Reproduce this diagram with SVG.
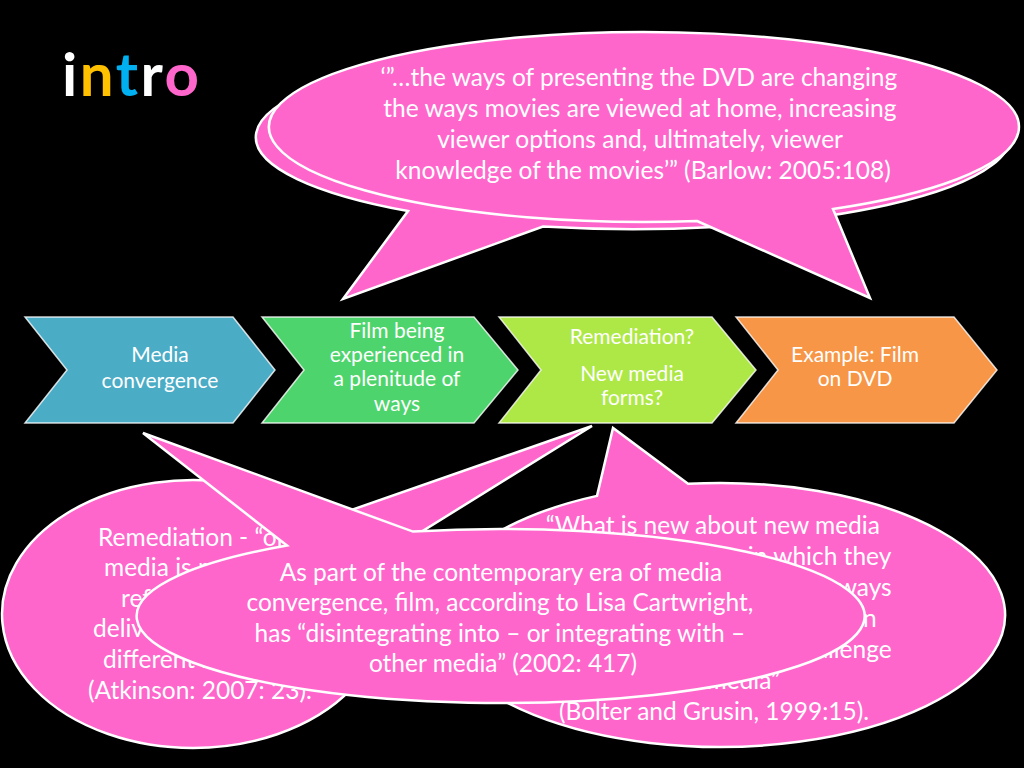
<svg xmlns="http://www.w3.org/2000/svg" width="1024" height="768" viewBox="0 0 1024 768">
<style>
.bg{fill:#000}
.callout{fill:#FF66CC;stroke:#fff;stroke-width:2.5;stroke-linejoin:miter}
.chev{stroke:#fff;stroke-width:1.5;stroke-opacity:0.8}
.t{font-family:Lato,"Open Sans","Liberation Sans",sans-serif;fill:#fff}
.body{font-size:24.5px}
.ct{font-size:21px}
.title{font-family:Lato,"Liberation Sans",sans-serif;font-weight:bold;font-size:60px;letter-spacing:2.5px}
</style>
<rect class="bg" x="0" y="0" width="1024" height="768"/>

<g id="title">
<text class="title" x="62" y="96"><tspan fill="#fff">i</tspan><tspan fill="#FFC000">n</tspan><tspan fill="#00B0F0">t</tspan><tspan fill="#fff">r</tspan><tspan fill="#FF66CC">o</tspan></text>
</g>

<g id="top-callout-back">
<path class="callout" d="M 543,226.5 A 377 92 0 1 0 408,211 L 343,299 Z"/>
</g>
<g id="top-callout">
<path class="callout" d="M 697,221 L 870,298 L 833,209 A 375 95 0 1 0 697,221 Z"/>
<text class="t body" text-anchor="middle">
<tspan x="642" y="86">‘”…the ways of presenting the DVD are changing</tspan>
<tspan x="643" y="117">the ways movies are viewed at home, increasing</tspan>
<tspan x="643" y="148">viewer options and, ultimately, viewer</tspan>
<tspan x="643" y="179">knowledge of the movies’” (Barlow: 2005:108)</tspan>
</text>
</g>

<g id="chevron-1">
<polygon class="chev" fill="#4BACC6" points="25,317 233,317 275,370 233,423 25,423 67,370"/>
<text class="t ct" text-anchor="middle"><tspan x="160" y="362">Media</tspan><tspan x="160" y="388">convergence</tspan></text>
</g>
<g id="chevron-2">
<polygon class="chev" fill="#4ED46C" points="262,317 474,317 518,370 474,423 262,423 304,370"/>
<text class="t ct" text-anchor="middle"><tspan x="397" y="338">Film being</tspan><tspan x="397" y="362">experienced in</tspan><tspan x="397" y="386">a plenitude of</tspan><tspan x="397" y="411">ways</tspan></text>
</g>
<g id="chevron-3">
<polygon class="chev" fill="#AEE846" points="499,317 712,317 756,370 712,423 499,423 541,370"/>
<text class="t ct" text-anchor="middle"><tspan x="632" y="344">Remediation?</tspan><tspan x="632" y="381">New media</tspan><tspan x="632" y="405">forms?</tspan></text>
</g>
<g id="chevron-4">
<polygon class="chev" fill="#F79646" points="736,317 954,317 997,370 954,423 736,423 778,370"/>
<text class="t ct" text-anchor="middle"><tspan x="855" y="362">Example: Film</tspan><tspan x="855" y="386">on DVD</tspan></text>
</g>

<g id="left-callout">
<path class="callout" d="M 327,518.5 L 592,426 L 370,563.6 A 191 134 0 1 1 327,518.5 Z"/>
<text class="t body">
<tspan x="98" y="546">Remediation - “old</tspan>
<tspan x="104" y="576">media is repackaged,</tspan>
<tspan x="121" y="607">reformatted and</tspan>
<tspan x="93" y="637">delivered through</tspan>
<tspan x="103" y="668">different means”</tspan>
<tspan x="88" y="699">(Atkinson: 2007: 23).</tspan>
</text>
</g>

<g id="right-callout">
<path class="callout" d="M 597,495.9 L 613,428 L 688,483.8 A 285 132 0 1 1 597,495.9 Z"/>
<text class="t body">
<tspan x="716" y="534" text-anchor="middle">“What is new about new media</tspan>
<tspan x="897" y="565" text-anchor="end">comes from the ways in which they</tspan>
<tspan x="898" y="596" text-anchor="end">refashion older media and the ways</tspan>
<tspan x="883" y="627" text-anchor="end">in which older media refashion</tspan>
<tspan x="898" y="658" text-anchor="end">themselves to answer the challenge</tspan>
<tspan x="786" y="689" text-anchor="end">of new media”</tspan>
<tspan x="714" y="720" text-anchor="middle">(Bolter and Grusin, 1999:15).</tspan>
</text>
</g>

<g id="middle-callout">
<path class="callout" d="M 287,545.6 L 143,433 L 413,531.6 A 364 87 0 1 1 287,545.6 Z"/>
<text class="t body" text-anchor="middle">
<tspan x="504" y="581">As part of the contemporary era of media</tspan>
<tspan x="503" y="611">convergence, film, according to Lisa Cartwright,</tspan>
<tspan x="503" y="642">has “disintegrating into – or integrating with –</tspan>
<tspan x="503" y="672">other media” (2002: 417)</tspan>
</text>
</g>
<g id="connectors"/>
</svg>
